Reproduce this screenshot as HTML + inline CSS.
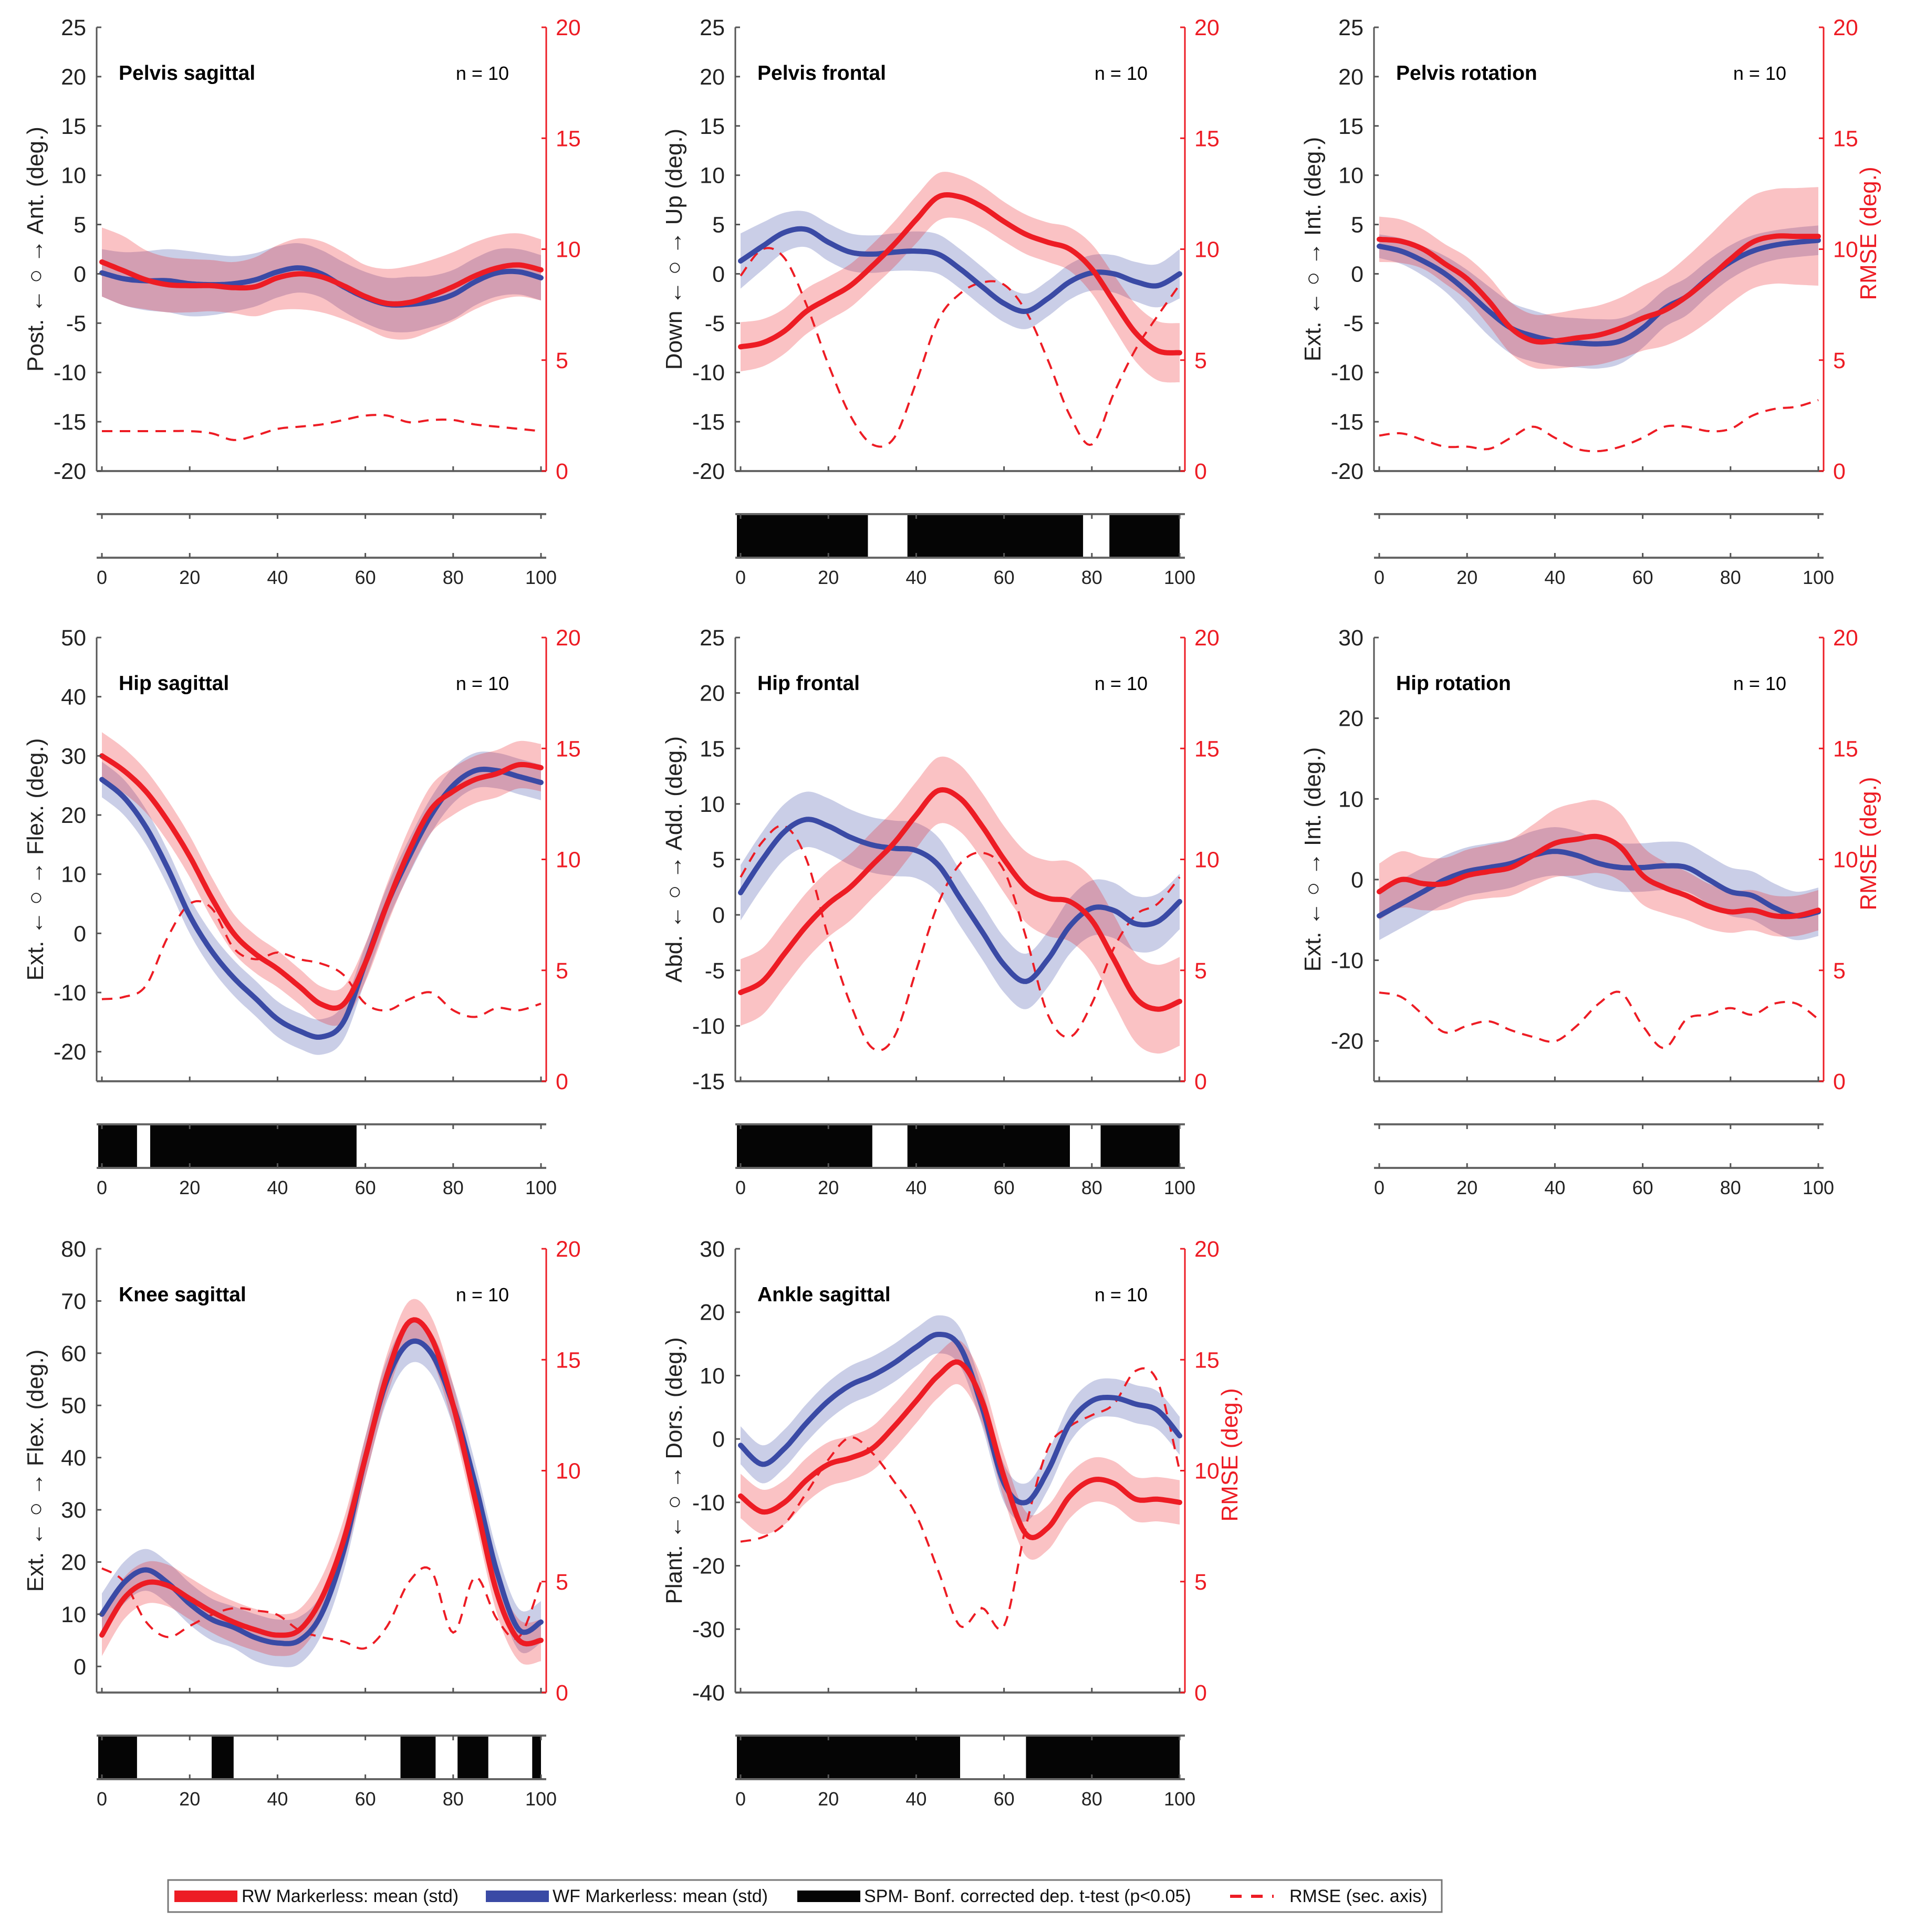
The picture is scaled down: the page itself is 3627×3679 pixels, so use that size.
<!DOCTYPE html>
<html><head><meta charset="utf-8">
<style>
html,body{margin:0;padding:0;background:#fff;}
svg{display:block;font-family:"Liberation Sans",Arial,sans-serif;}
</style></head>
<body>
<svg id="fig" width="3627" height="3679" viewBox="0 0 3627 3679" xmlns="http://www.w3.org/2000/svg">
<g id="legend">
<rect x="320" y="3580" width="2425" height="61" fill="#fff" stroke="#777" stroke-width="3"/>
<rect x="332" y="3600" width="120" height="22" fill="#ed1c24"/>
<text x="460" y="3622" font-size="34" fill="#111">RW Markerless: mean (std)</text>
<rect x="925" y="3600" width="120" height="22" fill="#3a4aa5"/>
<text x="1052" y="3622" font-size="34" fill="#111">WF Markerless: mean (std)</text>
<rect x="1518" y="3600" width="120" height="22" fill="#050505"/>
<text x="1645" y="3622" font-size="34" fill="#111">SPM- Bonf. corrected dep. t-test (p&lt;0.05)</text>
<line x1="2342" y1="3611" x2="2425" y2="3611" stroke="#ed1c24" stroke-width="6" stroke-dasharray="22,18"/>
<text x="2455" y="3622" font-size="34" fill="#111">RMSE (sec. axis)</text>
</g>
</svg>
<script>
// ---- data (x sampled at 0,5,...,100 % gait cycle) ----
const xs = [0,5,10,15,20,25,30,35,40,45,50,55,60,65,70,75,80,85,90,95,100];

const p1RW = [1.2,0.3,-0.6,-1.1,-1.2,-1.2,-1.4,-1.3,-0.4,0,-0.3,-1.2,-2.3,-3.0,-2.9,-2.2,-1.3,-0.2,0.6,0.9,0.4];
const p1RWsd = [3.5,3.5,3.0,2.8,2.7,2.6,2.6,3.0,3.3,3.6,3.6,3.4,3.2,3.5,3.7,3.6,3.5,3.4,3.3,3.2,3.1];
const p1WF = [0.1,-0.5,-0.7,-0.7,-1.0,-1.1,-1.0,-0.6,0.2,0.6,0,-1.3,-2.4,-3.1,-3.1,-2.8,-2.1,-0.8,0.1,0.2,-0.4];
const p1WFsd = [2.4,2.7,3.0,3.2,3.3,3.1,2.8,2.7,2.6,2.5,2.4,2.5,2.6,2.7,2.8,2.6,2.5,2.4,2.4,2.3,2.3];
const p1RMSE = [1.8,1.8,1.8,1.8,1.8,1.7,1.4,1.6,1.9,2.0,2.1,2.3,2.5,2.5,2.2,2.3,2.3,2.1,2.0,1.9,1.8];
const p1SPM = [];

const p2RW = [-7.4,-7.0,-5.8,-3.8,-2.5,-1.2,0.8,3.0,5.5,7.8,7.8,6.8,5.3,4.0,3.2,2.5,0.5,-2.8,-6.0,-7.8,-8.0];
const p2RWsd = [2.5,2.4,2.3,2.3,2.2,2.2,2.2,2.3,2.4,2.4,2.2,2.1,2.0,2.0,2.0,2.2,2.5,2.7,2.9,3.0,3.0];
const p2WF = [1.3,2.8,4.2,4.5,3.2,2.2,2.0,2.2,2.3,2.0,0.5,-1.3,-3.0,-3.8,-2.5,-0.8,0.1,0,-0.8,-1.2,0];
const p2WFsd = [2.8,2.4,2.0,1.8,1.9,1.9,1.9,1.9,2.0,2.0,2.0,2.0,1.9,1.8,1.8,1.8,1.8,1.9,2.0,2.2,2.5];
const p2RMSE = [8.8,10.0,9.6,7.5,4.8,2.5,1.2,1.5,4.0,6.8,8.0,8.5,8.4,7.2,5.0,2.5,1.2,3.5,5.5,7.0,8.4];
const p2SPM = [[0,29],[38,78],[84,100]];

const p3RW = [3.5,3.3,2.5,1.0,-0.5,-2.8,-5.5,-6.8,-6.8,-6.5,-6.2,-5.5,-4.5,-3.7,-2.3,-0.5,1.5,3.2,3.8,3.8,3.8];
const p3RWsd = [2.3,2.2,2.0,2.0,2.2,2.5,2.6,2.7,2.8,2.9,3.0,3.1,3.3,3.6,4.0,4.3,4.5,4.7,4.8,4.9,5.0];
const p3WF = [2.8,2.3,1.3,0,-1.8,-3.8,-5.5,-6.3,-6.8,-7.0,-7.1,-6.8,-5.5,-3.5,-2.3,-0.4,1.2,2.3,2.9,3.2,3.4];
const p3WFsd = [1.2,1.3,1.5,1.8,2.2,2.5,2.6,2.6,2.5,2.5,2.5,2.3,2.0,1.9,1.9,1.8,1.7,1.6,1.5,1.5,1.5];
const p3RMSE = [1.6,1.7,1.4,1.1,1.1,1.0,1.5,2.0,1.5,1.0,0.9,1.1,1.5,2.0,2.0,1.8,1.9,2.5,2.8,2.9,3.2];
const p3SPM = [];

const p4RW = [30,27.5,24,19,13,6,0,-3.5,-6,-9,-12,-12,-5,5,14,21,24,26,27,28.5,28];
const p4RWsd = [4,3.8,3.6,3.5,3.5,3.5,3.3,3.2,3.1,3,3,3,3.2,3.5,3.8,4,4,4,4,4,4];
const p4WF = [26,23,18,11,3,-3,-7.5,-11,-14.5,-16.5,-17.5,-15,-5,5,13,20,25,27.5,27.5,26.5,25.5];
const p4WFsd = [3,3,3,3,3,3,3,3,3,3,3,3,3,3,3,3,3,3,3,3,3];
const p4RMSE = [3.7,3.8,4.3,6.5,8.0,7.8,6.0,5.5,5.8,5.5,5.3,4.8,3.5,3.2,3.7,4.0,3.2,2.9,3.3,3.2,3.5];
const p4SPM = [[0,8],[11,58]];

const p5RW = [-7,-6,-3.5,-1,1,2.5,4.5,6.5,9,11.2,10.5,8,5,2.5,1.5,1.2,-0.5,-4,-7.5,-8.5,-7.8];
const p5RWsd = [3,3,3,3,3,3,3,3,3,3,3,3,3,3.2,3.4,3.6,3.8,4,4,4,4];
const p5WF = [2,5,7.5,8.6,8,7,6.3,6,5.8,4.5,1.5,-1.5,-4.5,-6,-4,-1,0.6,0.4,-0.8,-0.6,1.2];
const p5WFsd = [2.5,2.5,2.5,2.5,2.5,2.5,2.5,2.5,2.5,2.5,2.5,2.5,2.5,2.5,2.5,2.5,2.5,2.5,2.5,2.5,2.5];
const p5RMSE = [9.2,10.8,11.5,10.0,6.5,3.5,1.5,2.0,5.0,8.0,9.8,10.3,9.5,6.5,3.0,2.0,3.5,6.0,7.5,8.0,9.2];
const p5SPM = [[0,30],[38,75],[82,100]];

const p6RW = [-1.5,0,-0.5,-0.5,0.5,1,1.5,3,4.5,5,5.3,4,0.5,-1,-2,-3.3,-4,-3.8,-4.5,-4.5,-3.8];
const p6RWsd = [3.5,3.5,3.3,3.2,3.2,3.3,3.5,3.8,4.2,4.5,4.5,4.2,3.6,3.2,3,2.8,2.6,2.5,2.5,2.5,2.5];
const p6WF = [-4.5,-3,-1.5,0,1,1.5,2,3,3.5,3,2,1.5,1.5,1.7,1.5,0,-1.5,-2,-3.5,-4.5,-4];
const p6WFsd = [3,3,3,3,3,3,3,3,3,3,3,3,3,3,3,3,3,3,3,3,3];
const p6RMSE = [4.0,3.8,3.0,2.2,2.5,2.7,2.3,2.0,1.8,2.5,3.5,4.0,2.5,1.5,2.8,3.0,3.3,3.0,3.5,3.5,2.8];
const p6SPM = [];

const p7RW = [6,13,16,15.5,13,10.5,8.5,7,6,7,13,24,40,56,66,63,50,32,14,5,5];
const p7RWsd = [4,4,4,4,4,4,4,4,4,4,4,4,4,4,4,4,4,4,4,4,4];
const p7WF = [10,16,18.5,16,12,9,7.5,5.5,4.5,5,10,22,40,55,62,60,50,35,18,7,8.5];
const p7WFsd = [4,4,4,4,4,4,4,4.5,4.5,4.5,4,4,4,4,4,4,4,4,4,4,4];
const p7RMSE = [5.6,5.0,3.2,2.5,3.0,3.5,3.8,3.7,3.5,2.8,2.5,2.3,2.0,3.0,5.0,5.5,2.7,5.2,3.3,2.5,5.0];
const p7SPM = [[0,8],[25,30],[68,76],[81,88],[98,100]];

const p8RW = [-9,-11.5,-10,-6.5,-4,-3,-1.5,2,6,10,12,6,-6,-15,-14,-9,-6.5,-7,-9.5,-9.5,-10];
const p8RWsd = [3.5,3.5,3.5,3.5,3.5,3.5,3.5,3.5,3.5,3.5,3.5,3.5,3.5,3.5,3.5,3.5,3.5,3.5,3.5,3.5,3.5];
const p8WF = [-1,-4,-1.5,2.5,6,8.5,10,12,14.5,16.5,14.5,5,-7,-10,-5,2.5,6,6.5,5.5,4.5,0.5];
const p8WFsd = [3,3,3,3,3,3,3,3,3,3,3,3,3,3,3,3,3,3,3,3,3];
const p8RMSE = [6.8,7.0,7.6,9.0,10.5,11.5,10.8,9.5,8.0,5.5,3.0,3.8,3.0,7.5,11.0,12.0,12.5,13.0,14.5,14.0,10.0];
const p8SPM = [[0,50],[65,100]];

const xTicks = [0,20,40,60,80,100];
const rmseTicks = [0,5,10,15,20];

const panels = [
 {id:'pelvis-sagittal',title:'Pelvis sagittal',ylab:'Post. \u2190 \u25CB \u2192 Ant. (deg.)',col:0,row:0,ymin:-20,ymax:25,ticks:[-20,-15,-10,-5,0,5,10,15,20,25],rw:p1RW,rwsd:p1RWsd,wf:p1WF,wfsd:p1WFsd,rmse:p1RMSE,spm:p1SPM,rl:false},
 {id:'pelvis-frontal',title:'Pelvis frontal',ylab:'Down \u2190 \u25CB \u2192 Up  (deg.)',col:1,row:0,ymin:-20,ymax:25,ticks:[-20,-15,-10,-5,0,5,10,15,20,25],rw:p2RW,rwsd:p2RWsd,wf:p2WF,wfsd:p2WFsd,rmse:p2RMSE,spm:p2SPM,rl:false},
 {id:'pelvis-rotation',title:'Pelvis rotation',ylab:'Ext. \u2190 \u25CB \u2192 Int.  (deg.)',col:2,row:0,ymin:-20,ymax:25,ticks:[-20,-15,-10,-5,0,5,10,15,20,25],rw:p3RW,rwsd:p3RWsd,wf:p3WF,wfsd:p3WFsd,rmse:p3RMSE,spm:p3SPM,rl:true},
 {id:'hip-sagittal',title:'Hip sagittal',ylab:'Ext. \u2190 \u25CB \u2192 Flex. (deg.)',col:0,row:1,ymin:-25,ymax:50,ticks:[-20,-10,0,10,20,30,40,50],rw:p4RW,rwsd:p4RWsd,wf:p4WF,wfsd:p4WFsd,rmse:p4RMSE,spm:p4SPM,rl:false},
 {id:'hip-frontal',title:'Hip frontal',ylab:'Abd. \u2190 \u25CB \u2192 Add. (deg.)',col:1,row:1,ymin:-15,ymax:25,ticks:[-15,-10,-5,0,5,10,15,20,25],rw:p5RW,rwsd:p5RWsd,wf:p5WF,wfsd:p5WFsd,rmse:p5RMSE,spm:p5SPM,rl:false},
 {id:'hip-rotation',title:'Hip rotation',ylab:'Ext. \u2190 \u25CB \u2192 Int. (deg.)',col:2,row:1,ymin:-25,ymax:30,ticks:[-20,-10,0,10,20,30],rw:p6RW,rwsd:p6RWsd,wf:p6WF,wfsd:p6WFsd,rmse:p6RMSE,spm:p6SPM,rl:true},
 {id:'knee-sagittal',title:'Knee sagittal',ylab:'Ext. \u2190 \u25CB \u2192 Flex. (deg.)',col:0,row:2,ymin:-5,ymax:80,ticks:[0,10,20,30,40,50,60,70,80],rw:p7RW,rwsd:p7RWsd,wf:p7WF,wfsd:p7WFsd,rmse:p7RMSE,spm:p7SPM,rl:false},
 {id:'ankle-sagittal',title:'Ankle sagittal',ylab:'Plant. \u2190 \u25CB \u2192 Dors. (deg.)',col:1,row:2,ymin:-40,ymax:30,ticks:[-40,-30,-20,-10,0,10,20,30],rw:p8RW,rwsd:p8RWsd,wf:p8WF,wfsd:p8WFsd,rmse:p8RMSE,spm:p8SPM,rl:true}
];

const NS='http://www.w3.org/2000/svg';
const svg=document.getElementById('fig');
const colL=[184,1400,2616], rowT=[52,1214,2378], W=856, H=845;
const RED='#ed1c24', BLUE='#3a4aa5';

function mk(tag,attrs,parent){const e=document.createElementNS(NS,tag);for(const k in attrs)e.setAttribute(k,attrs[k]);parent.appendChild(e);return e;}
function smooth(px,py){
  const out=[];
  for(let i=0;i<px.length-1;i++){
    const i0=Math.max(0,i-1),i3=Math.min(px.length-1,i+2);
    for(let t=0;t<1;t+=0.1){
      const t2=t*t,t3=t2*t;
      const f=(p0,p1,p2,p3)=>0.5*((2*p1)+(-p0+p2)*t+(2*p0-5*p1+4*p2-p3)*t2+(-p0+3*p1-3*p2+p3)*t3);
      out.push([f(px[i0],px[i],px[i+1],px[i3]),f(py[i0],py[i],py[i+1],py[i3])]);
    }
  }
  out.push([px[px.length-1],py[py.length-1]]);
  return out;
}
const pts2d=a=>a.map(p=>p[0].toFixed(1)+','+p[1].toFixed(1)).join(' ');

panels.forEach(p=>{
  const L=colL[p.col],T=rowT[p.row],R=L+W,B=T+H;
  const xS=v=>L+10+(v/100)*(W-20);
  const yS=v=>B-(v-p.ymin)/(p.ymax-p.ymin)*H;
  const y2=v=>B-v/20*H;
  const g=mk('g',{},svg);
  
  
  const px=xs.map(xS);
  [[p.wf,p.wfsd,BLUE,'wf'],[p.rw,p.rwsd,RED,'rw']].forEach(([m,s,c,n])=>{
    const up=smooth(px,m.map((v,i)=>yS(v+s[i])));
    const lo=smooth(px,m.map((v,i)=>yS(v-s[i]))).reverse();
    const band=mk('polygon',{points:pts2d(up.concat(lo)),fill:c,'fill-opacity':0.27},g);
    
    
  });
  const rm=mk('polyline',{points:pts2d(smooth(px,p.rmse.map(y2))),fill:'none',stroke:RED,'stroke-width':4,'stroke-dasharray':'20,14'},g);
  
  
  [[p.wf,BLUE,'wf'],[p.rw,RED,'rw']].forEach(([m,c,n])=>{
    const ln=mk('polyline',{points:pts2d(smooth(px,m.map(yS))),fill:'none',stroke:c,'stroke-width':10,'stroke-linejoin':'round','stroke-linecap':'round'},g);
    
    
  });
  mk('line',{x1:L,y1:T,x2:L,y2:B,stroke:'#555','stroke-width':3},g);
  mk('line',{x1:L,y1:B,x2:R,y2:B,stroke:'#666','stroke-width':4},g);
  mk('line',{x1:R,y1:T,x2:R,y2:B,stroke:RED,'stroke-width':3},g);
  p.ticks.forEach(t=>{
    mk('line',{x1:L,y1:yS(t),x2:L+9,y2:yS(t),stroke:'#555','stroke-width':3},g);
    const tx=mk('text',{x:L-20,y:yS(t)+15,'font-size':43,'text-anchor':'end',fill:'#222'},g);
    tx.textContent=t;
    
    
  });
  rmseTicks.forEach(t=>{
    mk('line',{x1:R,y1:y2(t),x2:R-9,y2:y2(t),stroke:RED,'stroke-width':3},g);
    const tx=mk('text',{x:R+18,y:y2(t)+15,'font-size':43,fill:RED},g);
    tx.textContent=t;
    
    
  });
  xTicks.forEach(t=>mk('line',{x1:xS(t),y1:B,x2:xS(t),y2:B-9,stroke:'#555','stroke-width':3},g));
  const ti=mk('text',{x:L+42,y:T+100,'font-size':39,'font-weight':'bold',fill:'#000'},g);
  ti.textContent=p.title;
  
  
  const nn=mk('text',{x:L+785,y:T+100,'font-size':36,'text-anchor':'end',fill:'#000'},g);
  nn.textContent='n = 10';
  
  
  const yl=mk('text',{x:0,y:0,'font-size':44,'text-anchor':'middle',fill:'#222',transform:`translate(${L-102},${T+H/2}) rotate(-90)`},g);
  yl.textContent=p.ylab;
  
  
  if(p.rl){
    const rl=mk('text',{x:0,y:0,'font-size':44,'text-anchor':'middle',fill:RED,transform:`translate(${R+100},${T+H/2-30}) rotate(-90)`},g);
    rl.textContent='RMSE (deg.)';
    
    
  }
  const sT=T+927,sB=T+1010;
  p.spm.forEach(s=>{
    const r=mk('rect',{x:xS(s[0])-(s[0]===0?7:0),y:sT,width:xS(s[1])-xS(s[0])+(s[0]===0?7:0),height:sB-sT,fill:'#050505'},g);
    
    
  });
  mk('line',{x1:L,y1:sT,x2:R,y2:sT,stroke:'#666','stroke-width':4},g);
  mk('line',{x1:L,y1:sB,x2:R,y2:sB,stroke:'#666','stroke-width':4},g);
  xTicks.forEach(t=>{
    mk('line',{x1:xS(t),y1:sT,x2:xS(t),y2:sT+9,stroke:'#555','stroke-width':3},g);
    mk('line',{x1:xS(t),y1:sB,x2:xS(t),y2:sB-9,stroke:'#555','stroke-width':3},g);
    const tx=mk('text',{x:xS(t),y:sB+50,'font-size':36,'text-anchor':'middle',fill:'#222'},g);
    tx.textContent=t;
    
    
  });
});
</script>
</body></html>
